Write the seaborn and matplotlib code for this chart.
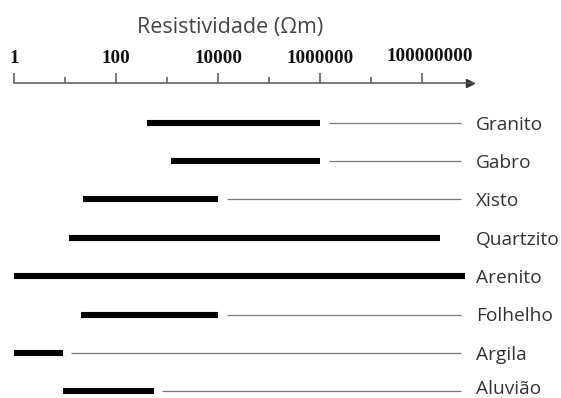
import matplotlib
matplotlib.use("Agg")
import numpy as np
import pandas as pd
import seaborn as sns
import matplotlib.pyplot as plt
import matplotlib.transforms as mtransforms
from matplotlib.ticker import FixedLocator, FixedFormatter, NullFormatter

# Resistivity ranges (ohm-metre) per rock type
rocks = ["Granito", "Gabro", "Xisto", "Quartzito", "Arenito", "Folhelho", "Argila", "Aluvião"]
rho_min = [400, 1200, 22, 12, 1, 20, 1, 9]
rho_max = [1e6, 1e6, 1e4, 2.2e8, 7e8, 1e4, 9, 550]
has_leader = [True, True, True, False, False, True, True, True]

major_ticks = [1, 1e2, 1e4, 1e6, 1e8]
major_labels = ["1", "100", "10000", "1000000", "100000000"]
minor_ticks = [10, 1e3, 1e5, 1e7]
axis_title = "Resistividade (Ωm)"

sns.set_theme(style="white")
plt.rcParams["lines.solid_capstyle"] = "butt"
plt.rcParams["font.family"] = ["Open Sans", "DejaVu Sans"]

fig = plt.figure(figsize=(5.61, 3.98), dpi=100)
ax = fig.add_axes([14.3 / 561, 0.0, 459.1 / 561, (398 - 83.3) / 398])
ax.set_xscale("log")

rows = np.arange(len(rocks))
df = pd.DataFrame({
    "rock": np.repeat(rocks, 2),
    "row": np.repeat(rows, 2),
    "rho": np.ravel(np.column_stack([rho_min, rho_max])),
})
sns.lineplot(data=df, x="rho", y="row", units="rock", estimator=None, sort=False,
             color="black", linewidth=4.4, legend=False, ax=ax)

# thin leader lines from each range to its label
gap = 10 ** 0.16
leader_end = 5.7e8
lead_rows = [r for r, k in zip(rows, has_leader) if k]
lead_start = [rho_max[r] * gap for r in lead_rows]
ax.hlines(lead_rows, lead_start, leader_end, color="#7a7a7a", linewidth=0.9)

ax.set_xlim(1, 1e9)
ax.set_ylim(7.175, -1.027)

# row labels on the right; the bottom one is kept inside the figure
trans = mtransforms.blended_transform_factory(ax.transAxes, ax.transData)
nudge = mtransforms.ScaledTranslation(0, -0.018, fig.dpi_scale_trans)
for r, name in zip(rows, rocks):
    if r == rows[-1]:
        fig.text(ax.get_position().x1 + 3 / 561, 0.0, name, ha="left", va="bottom",
                 fontsize=13.8, color="#333333")
    else:
        ax.text(1.0057, r, name, transform=trans + nudge, ha="left", va="center",
                fontsize=13.8, color="#333333", clip_on=False)

# top axis with arrow
for side in ["left", "right", "bottom"]:
    ax.spines[side].set_visible(False)
ax.spines["top"].set_color("#555555")
ax.spines["top"].set_linewidth(1.1)
ax.set_ylabel("")
ax.set_xlabel("")
ax.set_yticks([])
ax.xaxis.set_ticks_position("top")
ax.xaxis.set_major_locator(FixedLocator(major_ticks))
ax.xaxis.set_major_formatter(FixedFormatter(major_labels))
ax.xaxis.set_minor_locator(FixedLocator(minor_ticks))
ax.xaxis.set_minor_formatter(NullFormatter())
ax.tick_params(axis="x", which="major", top=True, bottom=False, labeltop=True,
               labelbottom=False, direction="out", length=7.2, width=1.1,
               color="#555555", pad=4.5)
ax.tick_params(axis="x", which="minor", top=True, bottom=False, direction="out",
               length=4.3, width=1.1, color="#555555")
for lab in ax.get_xticklabels():
    lab.set_fontfamily("Liberation Serif")
    lab.set_fontweight("bold")
    lab.set_fontsize(13.8)
    lab.set_color("#111111")

# the last label sits a little right of its tick
last = ax.xaxis.get_major_ticks()[-1].label2
last.set_transform(last.get_transform()
                   + mtransforms.ScaledTranslation(0.07, 0.02, fig.dpi_scale_trans))

ax.plot([0.992], [1.0], marker=">", markersize=5.5, color="#333333",
        transform=ax.transAxes, clip_on=False)

fig.text(230.5 / 561, 1 - 27.5 / 398, axis_title, ha="center", va="center",
         fontsize=15.5, color="#444444")

fig.savefig("out.png", dpi=100)
